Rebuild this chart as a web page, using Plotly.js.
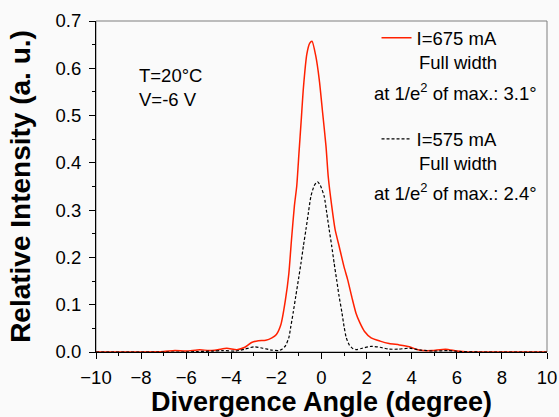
<!DOCTYPE html>
<html>
<head>
<meta charset="utf-8">
<script src="https://cdn.plot.ly/plotly-3.0.1.min.js"></script>
<style>html,body{margin:0;padding:0;background:#fafafa;}#chart{width:559px;height:417px;}</style>
</head>
<body>
<div id="chart"></div>
<script>
// I = 675 mA (red, solid)
const angle675 = [-10,-8,-7,-6.5,-6,-5.4,-5,-4.6,-4.2,-3.75,-3.4,-3.1,-2.8,-2.47,-2.2,-2.0,-1.8,-1.6,-1.45,-1.33,-1.2,-1.1,-1.0,-0.9,-0.8,-0.65,-0.52,-0.42,-0.25,-0.1,0.05,0.2,0.3,0.45,0.6,0.8,1.0,1.16,1.35,1.53,1.7,1.9,2.2,2.6,3.0,3.45,3.9,4.2,4.5,4.9,5.5,6.0,6.5,8,10];
const int675   = [0,0,0.001,0.003,0.002,0.005,0.003,0.005,0.008,0.005,0.01,0.02,0.024,0.025,0.03,0.037,0.058,0.11,0.165,0.238,0.31,0.35,0.42,0.49,0.56,0.63,0.653,0.657,0.625,0.576,0.506,0.435,0.37,0.31,0.26,0.22,0.18,0.153,0.115,0.082,0.062,0.044,0.03,0.023,0.018,0.015,0.011,0.006,0.003,0.003,0.006,0.002,0,0,0];
// I = 575 mA (black, dashed)
const angle575 = [-10,-6,-5.5,-4.8,-4.4,-3.8,-3.4,-3.0,-2.6,-2.2,-1.9,-1.75,-1.6,-1.45,-1.36,-1.25,-1.14,-1.0,-0.91,-0.8,-0.69,-0.58,-0.47,-0.32,-0.18,-0.05,0.12,0.23,0.34,0.45,0.56,0.67,0.78,0.9,1.0,1.1,1.23,1.4,1.55,1.8,2.2,2.6,3.0,3.4,3.9,4.4,5.0,5.6,6.2,7,10];
const int575   = [0,0,0.001,0.002,0.003,0.002,0.006,0.011,0.008,0.004,0.003,0.006,0.013,0.03,0.054,0.085,0.118,0.16,0.188,0.225,0.259,0.295,0.329,0.352,0.36,0.352,0.329,0.295,0.259,0.225,0.188,0.153,0.118,0.085,0.054,0.03,0.015,0.007,0.005,0.008,0.012,0.01,0.006,0.006,0.008,0.004,0.002,0.003,0.001,0,0];

const seriesNames = ["I=675 mA", "I=575 mA"];
const widthLabels = ["at 1/e<sup>2</sup> of max.: 3.1°", "at 1/e<sup>2</sup> of max.: 2.4°"];
const xTitle = "Divergence Angle (degree)";
const yTitle = "Relative Intensity (a. u.)";
const conditions = ["T=20°C", "V=-6 V"];

const FONT = "Liberation Sans, Arial, sans-serif";
const TXT = 18.5;

const traces = [
  {x: angle675, y: int675, name: seriesNames[0], mode: "lines", legendgroup: "a",
   line: {color: "rgb(255,32,0)", width: 1.5, shape: "spline", smoothing: 0.6}},
  {x: angle575, y: int575, name: seriesNames[1], mode: "lines", legendgroup: "b",
   line: {color: "black", width: 1.2, dash: "3px,2px", shape: "spline", smoothing: 0.6}}
];

const layout = {
  width: 559, height: 417,
  paper_bgcolor: "#fafafa", plot_bgcolor: "#fafafa",
  margin: {l: 95.5, r: 12, t: 21.4, b: 64.7, pad: 0},
  font: {family: FONT, color: "black", size: 18},
  showlegend: true,
  legend: {x: 0.622, xanchor: "left", y: 1.005, yanchor: "top", bgcolor: "rgba(0,0,0,0)",
           font: {family: FONT, size: TXT}, tracegroupgap: 74, traceorder: "grouped"},
  xaxis: {range: [-10, 10], dtick: 2, tick0: 0, ticks: "outside", ticklen: 6, tickwidth: 1,
          tickcolor: "black", showline: true, linecolor: "black", linewidth: 1,
          showgrid: false, zeroline: false, tickfont: {family: FONT, size: 18.5},
          ticklabelstandoff: 3,
          minor: {dtick: 1, ticks: "outside", ticklen: 3, tickcolor: "black"},
          title: {text: xTitle, font: {family: FONT, size: 27, weight: "bold"}, standoff: 14}},
  yaxis: {range: [0, 0.7], dtick: 0.1, tick0: 0, tickformat: ".1f", ticks: "outside", ticklen: 6,
          tickwidth: 1, tickcolor: "black", showline: true, linecolor: "black", linewidth: 1,
          showgrid: false, zeroline: false, tickfont: {family: FONT, size: 18.5},
          ticklabelstandoff: 4,
          minor: {dtick: 0.05, ticks: "outside", ticklen: 3, tickcolor: "black"},
          title: {text: yTitle, font: {family: FONT, size: 28, weight: "bold"}, standoff: 16}},
  shapes: [
    {type: "rect", xref: "paper", yref: "paper", x0: 0, x1: 1, y0: 0, y1: 1,
     line: {color: "#7f7f7f", width: 1}, layer: "below"}
  ],
  annotations: [
    {text: "Full width", xref: "paper", yref: "paper", x: 0.802, y: 0.875, showarrow: false,
     xanchor: "center", yanchor: "middle", font: {family: FONT, size: TXT}},
    {text: widthLabels[0], xref: "paper", yref: "paper", x: 0.797, y: 0.787, showarrow: false,
     xanchor: "center", yanchor: "middle", font: {family: FONT, size: TXT}},
    {text: "Full width", xref: "paper", yref: "paper", x: 0.802, y: 0.57, showarrow: false,
     xanchor: "center", yanchor: "middle", font: {family: FONT, size: TXT}},
    {text: widthLabels[1], xref: "paper", yref: "paper", x: 0.797, y: 0.484, showarrow: false,
     xanchor: "center", yanchor: "middle", font: {family: FONT, size: TXT}},
    {text: conditions[0], xref: "paper", yref: "paper", x: 0.09, y: 0.835, showarrow: false,
     xanchor: "left", yanchor: "middle", font: {family: FONT, size: TXT}},
    {text: conditions[1], xref: "paper", yref: "paper", x: 0.09, y: 0.762, showarrow: false,
     xanchor: "left", yanchor: "middle", font: {family: FONT, size: TXT}}
  ]
};

Plotly.newPlot("chart", traces, layout, {staticPlot: true, displayModeBar: false});
</script>
</body>
</html>
